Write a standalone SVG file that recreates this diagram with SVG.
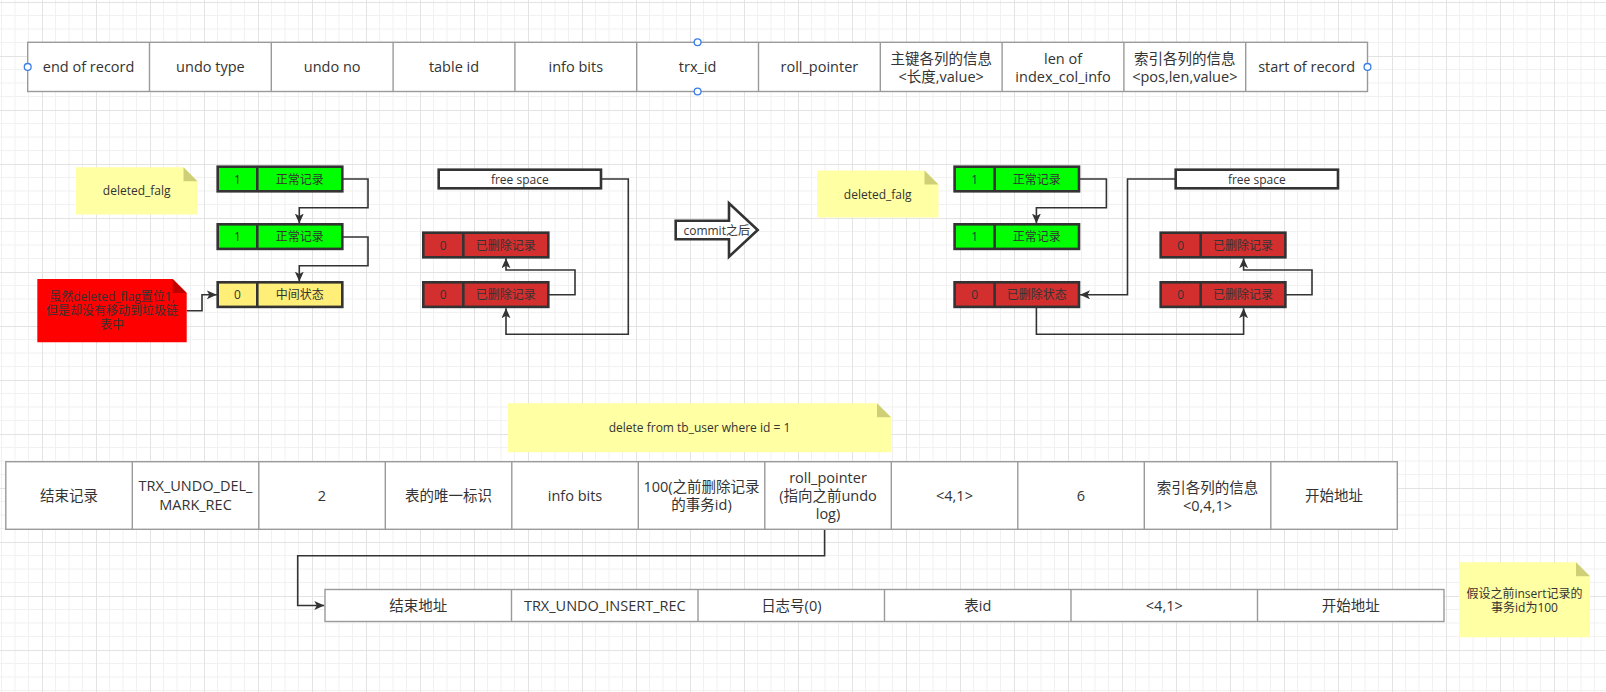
<svg xmlns="http://www.w3.org/2000/svg" width="1606" height="692" viewBox="0 0 1606 692">
<style>
.t{font-family:"Open Sans","Noto Sans CJK SC",sans-serif;fill:#333;text-anchor:middle;dominant-baseline:central}
.big{font-size:14.5px}
.sm{font-size:12px}
.cell{fill:#fff;stroke:#9a9a9a;stroke-width:1.4}
.div{stroke:#9a9a9a;stroke-width:1.4}
.rec{stroke:#333;stroke-width:2.6}
.green{fill:#00ff00}
.red{fill:#d32f2f}
.yel{fill:#ffef78}
.white{fill:#fff}
.note{fill:#ffffa3}
.fold{fill:#cfcf78}
.rnote{fill:#ff0000}
.rfold{fill:#c00000}
.conn{fill:none;stroke:#333;stroke-width:1.6;marker-end:url(#arr)}
.plain{fill:none;stroke:#333;stroke-width:1.6}
.handle{fill:#fff;stroke:#3a7ee8;stroke-width:1.3}
</style>
<defs>
<pattern id="grid" patternUnits="userSpaceOnUse" x="42" y="2" width="54" height="54">
<path d="M13.5,0V54M27,0V54M40.5,0V54M0,13.5H54M0,27H54M0,40.5H54" stroke="#f1f1f1" stroke-width="1" fill="none"/>
<path d="M0.5,0V54M0,0.5H54" stroke="#e3e3e3" stroke-width="1" fill="none"/>
</pattern>
<marker id="arr" markerUnits="userSpaceOnUse" markerWidth="11" markerHeight="9" refX="10" refY="4.5" orient="auto" viewBox="0 0 11 9">
<path d="M0,0 L10,4.5 L0,9 L2.5,4.5 Z" fill="#333"/>
</marker>
</defs>
<rect width="1606" height="692" fill="#fff"/>
<rect width="1606" height="692" fill="url(#grid)"/>

<!-- top table -->
<g id="undo-format-table">
<rect class="cell" x="27.7" y="42.3" width="1339.8" height="49.2"/>
<path class="div" d="M149.5,42.3V91.5M271.3,42.3V91.5M393.1,42.3V91.5M514.9,42.3V91.5M636.7,42.3V91.5M758.5,42.3V91.5M880.3,42.3V91.5M1002.1,42.3V91.5M1123.9,42.3V91.5M1245.7,42.3V91.5"/>
<text class="t big" x="88.6" y="66.9">end of record</text>
<text class="t big" x="210.4" y="66.9">undo type</text>
<text class="t big" x="332.2" y="66.9">undo no</text>
<text class="t big" x="454" y="66.9">table id</text>
<text class="t big" x="575.8" y="66.9">info bits</text>
<text class="t big" x="697.6" y="66.9">trx_id</text>
<text class="t big" x="819.4" y="66.9">roll_pointer</text>
<text class="t big" x="941.2" y="58">主键各列的信息</text>
<text class="t big" x="941.2" y="76.5">&lt;长度,value&gt;</text>
<text class="t big" x="1063" y="58">len of</text>
<text class="t big" x="1063" y="76.5">index_col_info</text>
<text class="t big" x="1184.8" y="58">索引各列的信息</text>
<text class="t big" x="1184.8" y="76.5">&lt;pos,len,value&gt;</text>
<text class="t big" x="1306.6" y="66.9">start of record</text>
<circle class="handle" cx="27.7" cy="66.9" r="3.4"/>
<circle class="handle" cx="1367.5" cy="66.9" r="3.4"/>
<circle class="handle" cx="697.6" cy="42.3" r="3.4"/>
<circle class="handle" cx="697.6" cy="91.5" r="3.4"/>
</g>

<!-- connectors -->
<g id="connectors">
<path class="conn" d="M342.3,179H368V207.7H299.3V223.5"/>
<path class="conn" d="M342.3,237H368V265.7H299.3V281.6"/>
<path class="conn" d="M186.7,310.7H202V294.8H216.8"/>
<path class="conn" d="M548.3,294.8H575V270H506V258.2"/>
<path class="conn" d="M601,179H628.3V334.3H506V308.2"/>
<path class="conn" d="M1079,179H1106.4V207.7H1036.4V223.5"/>
<path class="conn" d="M1175.7,179H1127.5V294.8H1080"/>
<path class="conn" d="M1036.4,307.3V334.3H1243.6V308.2"/>
<path class="conn" d="M1285.4,294.8H1312V270H1243.6V258.2"/>
<path class="conn" d="M824.6,529.3V555.7H297.7V605.5H324.3"/>
</g>

<!-- left notes -->
<g id="note-deleted-flag-left">
<path class="note" d="M76,167.3H183.5L197.5,181.3V214.5H76Z"/>
<path class="fold" d="M183.5,167.3V181.3H197.5Z"/>
<text class="t sm" x="136.7" y="190.9">deleted_falg</text>
</g>
<g id="note-red">
<path class="rnote" d="M37.3,279H172.7L186.7,293V342.3H37.3Z"/>
<path class="rfold" d="M172.7,279V293H186.7Z"/>
<text class="t sm" x="112" y="296.7">虽然deleted_flag置位1,</text>
<text class="t sm" x="112" y="310.7">但是却没有移动到垃圾链</text>
<text class="t sm" x="112" y="324.7">表中</text>
</g>

<!-- left records -->
<g id="left-rec1">
<rect class="rec green" x="217.7" y="166.7" width="124.6" height="24.6"/>
<path class="rec" d="M257.3,166.7V191.3"/>
<text class="t sm" x="237.5" y="179">1</text>
<text class="t sm" x="299.8" y="179">正常记录</text>
</g>
<g id="left-rec2">
<rect class="rec green" x="217.7" y="224.3" width="124.6" height="24.6"/>
<path class="rec" d="M257.3,224.3V248.9"/>
<text class="t sm" x="237.5" y="236.6">1</text>
<text class="t sm" x="299.8" y="236.6">正常记录</text>
</g>
<g id="left-rec3">
<rect class="rec yel" x="217.7" y="282.3" width="124.6" height="24.6"/>
<path class="rec" d="M257.3,282.3V306.9"/>
<text class="t sm" x="237.5" y="294.6">0</text>
<text class="t sm" x="299.8" y="294.6">中间状态</text>
</g>
<g id="left-free-space">
<rect class="rec white" x="438.7" y="169.7" width="162.3" height="18.6"/>
<text class="t sm" x="519.8" y="179">free space</text>
</g>
<g id="left-del1">
<rect class="rec red" x="423.3" y="232.7" width="125" height="24.6"/>
<path class="rec" d="M463.3,232.7V257.3"/>
<text class="t sm" x="443.3" y="245">0</text>
<text class="t sm" x="505.8" y="245">已删除记录</text>
</g>
<g id="left-del2">
<rect class="rec red" x="423.3" y="282.3" width="125" height="24.6"/>
<path class="rec" d="M463.3,282.3V306.9"/>
<text class="t sm" x="443.3" y="294.6">0</text>
<text class="t sm" x="505.8" y="294.6">已删除记录</text>
</g>

<!-- commit arrow -->
<g id="commit-arrow">
<path d="M675.7,220.7H729V203.3L757.7,230L729,256.7V239.3H675.7Z" fill="#fff" stroke="#333" stroke-width="2.6" stroke-linejoin="miter"/>
<text class="t sm" x="716.7" y="230">commit之后</text>
</g>

<!-- right side -->
<g id="note-deleted-flag-right">
<path class="note" d="M817,170.5H924.5L938.5,184.5V217.5H817Z"/>
<path class="fold" d="M924.5,170.5V184.5H938.5Z"/>
<text class="t sm" x="877.7" y="194">deleted_falg</text>
</g>
<g id="right-rec1">
<rect class="rec green" x="954.6" y="166.7" width="124.4" height="24.6"/>
<path class="rec" d="M994.6,166.7V191.3"/>
<text class="t sm" x="974.6" y="179">1</text>
<text class="t sm" x="1036.8" y="179">正常记录</text>
</g>
<g id="right-rec2">
<rect class="rec green" x="954.6" y="224.3" width="124.4" height="24.6"/>
<path class="rec" d="M994.6,224.3V248.9"/>
<text class="t sm" x="974.6" y="236.6">1</text>
<text class="t sm" x="1036.8" y="236.6">正常记录</text>
</g>
<g id="right-rec3">
<rect class="rec red" x="954.6" y="282.3" width="124.4" height="24.6"/>
<path class="rec" d="M994.6,282.3V306.9"/>
<text class="t sm" x="974.6" y="294.6">0</text>
<text class="t sm" x="1036.8" y="294.6">已删除状态</text>
</g>
<g id="right-free-space">
<rect class="rec white" x="1175.7" y="169.7" width="162.3" height="18.6"/>
<text class="t sm" x="1256.8" y="179">free space</text>
</g>
<g id="right-del1">
<rect class="rec red" x="1160.7" y="232.7" width="124.7" height="24.6"/>
<path class="rec" d="M1200.7,232.7V257.3"/>
<text class="t sm" x="1180.7" y="245">0</text>
<text class="t sm" x="1243" y="245">已删除记录</text>
</g>
<g id="right-del2">
<rect class="rec red" x="1160.7" y="282.3" width="124.7" height="24.6"/>
<path class="rec" d="M1200.7,282.3V306.9"/>
<text class="t sm" x="1180.7" y="294.6">0</text>
<text class="t sm" x="1243" y="294.6">已删除记录</text>
</g>

<!-- sql note -->
<g id="note-sql">
<path class="note" d="M508,403.3H877L891,417.3V452.3H508Z"/>
<path class="fold" d="M877,403.3V417.3H891Z"/>
<text class="t sm" x="699.5" y="427.8">delete from tb_user where id = 1</text>
</g>

<!-- delete mark undo log -->
<g id="undo-del-mark-rec">
<rect class="cell" x="5.8" y="461.7" width="1391.5" height="67.6"/>
<path class="div" d="M132.3,461.7V529.3M258.8,461.7V529.3M385.3,461.7V529.3M511.8,461.7V529.3M638.3,461.7V529.3M764.8,461.7V529.3M891.3,461.7V529.3M1017.8,461.7V529.3M1144.3,461.7V529.3M1270.8,461.7V529.3"/>
<text class="t big" x="69" y="495.5">结束记录</text>
<text class="t big" x="195.5" y="485.5">TRX_UNDO_DEL_</text>
<text class="t big" x="195.5" y="504.5">MARK_REC</text>
<text class="t big" x="322" y="495.5">2</text>
<text class="t big" x="448.5" y="495.5">表的唯一标识</text>
<text class="t big" x="575" y="495.5">info bits</text>
<text class="t big" x="701.5" y="486.5">100(之前删除记录</text>
<text class="t big" x="701.5" y="504.5">的事务id)</text>
<text class="t big" x="828" y="477.5">roll_pointer</text>
<text class="t big" x="828" y="495.5">(指向之前undo</text>
<text class="t big" x="828" y="513.5">log)</text>
<text class="t big" x="954.5" y="495.5">&lt;4,1&gt;</text>
<text class="t big" x="1081" y="495.5">6</text>
<text class="t big" x="1207.5" y="487">索引各列的信息</text>
<text class="t big" x="1207.5" y="505">&lt;0,4,1&gt;</text>
<text class="t big" x="1334" y="495.5">开始地址</text>
</g>

<!-- insert undo log -->
<g id="undo-insert-rec">
<rect class="cell" x="325" y="589.5" width="1119" height="32"/>
<path class="div" d="M511.5,589.5V621.5M698,589.5V621.5M884.5,589.5V621.5M1071,589.5V621.5M1257.5,589.5V621.5"/>
<text class="t big" x="418.3" y="605.5">结束地址</text>
<text class="t big" x="604.8" y="605.5">TRX_UNDO_INSERT_REC</text>
<text class="t big" x="791.3" y="605.5">日志号(0)</text>
<text class="t big" x="977.8" y="605.5">表id</text>
<text class="t big" x="1164.3" y="605.5">&lt;4,1&gt;</text>
<text class="t big" x="1350.8" y="605.5">开始地址</text>
</g>

<g id="note-assume">
<path class="note" d="M1459,562.3H1576L1590,576.3V637.3H1459Z"/>
<path class="fold" d="M1576,562.3V576.3H1590Z"/>
<text class="t sm" x="1524.5" y="593.3">假设之前insert记录的</text>
<text class="t sm" x="1524.5" y="607.3">事务id为100</text>
</g>
</svg>
